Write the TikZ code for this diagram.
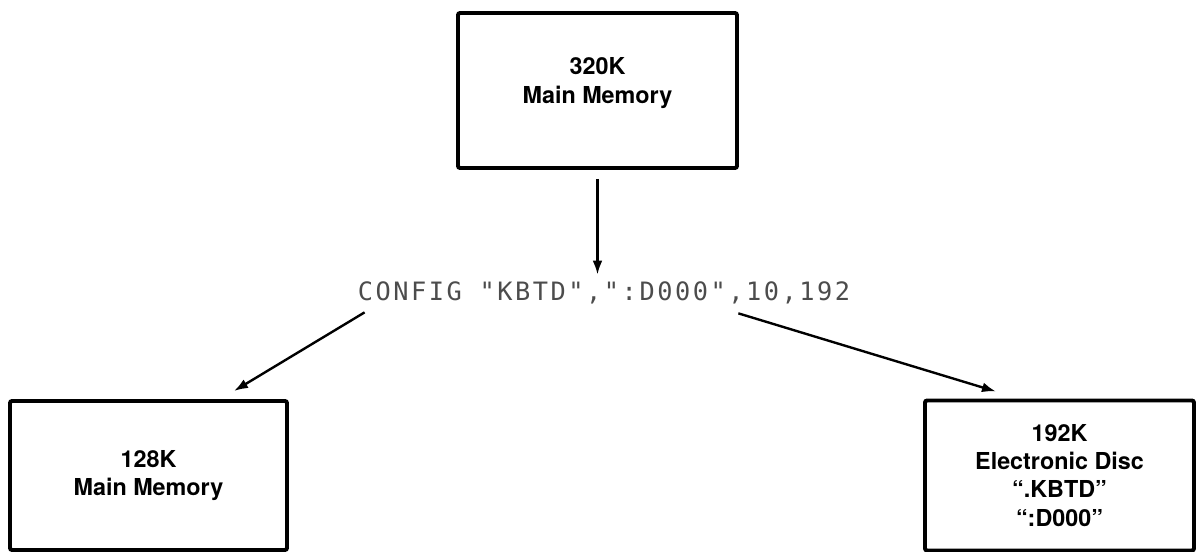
\documentclass[tikz,border=0pt]{standalone}
\usepackage{fontspec}
\setmainfont{TeX Gyre Heros}
\newfontfamily\cmdfont[LetterSpace=10]{DejaVu Sans Mono}
\usetikzlibrary{arrows.meta}
\tikzset{memb/.style={rectangle, draw, line width=2.8pt, rounded corners=1.5pt,
    align=center, font=\bfseries\fontsize{16.6}{20}\selectfont},
  cmdtext/.style={inner sep=0pt, text=black!70, font=\cmdfont\fontsize{18}{20}\selectfont}}

\begin{document}
\begin{tikzpicture}[->,>={Latex[length=10pt,width=7pt]},line width=1.7pt,
                    node distance=5.0625cm]

  \useasboundingbox (-14.9375,-11.5375) rectangle (14.9625,2.2625);

  \node[memb,minimum width=6.975cm,minimum height=3.875cm,text depth=0.5cm] (top) at (0,0) {320K\\Main Memory};
  \node[cmdtext] (cmd) [below of=top,xshift=0.1625cm] {CONFIG "KBTD",":D000",10,192};
  \node[memb,minimum width=6.925cm,minimum height=3.725cm] (left) [below of=cmd,xshift=-11.3875cm,yshift=0.5cm] {128K\\Main Memory};
  \node[memb,minimum width=6.725cm,minimum height=3.75cm] (right) [below of=cmd,xshift=11.3875cm,yshift=0.5cm] {192K\\Electronic Disc\\“.KBTD”\\“:D000”};

  \draw[shorten <=0.225cm,shorten >=0.15cm] (top.south) -- (top.south |- cmd.north);
  \draw ([xshift=0.2cm,yshift=-0.175cm]cmd.south west) -- ([xshift=-1.375cm,yshift=0.2cm]left.north east);
  \draw ([xshift=-2.825cm,yshift=-0.2cm]cmd.south east) -- ([xshift=1.825cm,yshift=0.175cm]right.north west);
\end{tikzpicture}
\end{document}
